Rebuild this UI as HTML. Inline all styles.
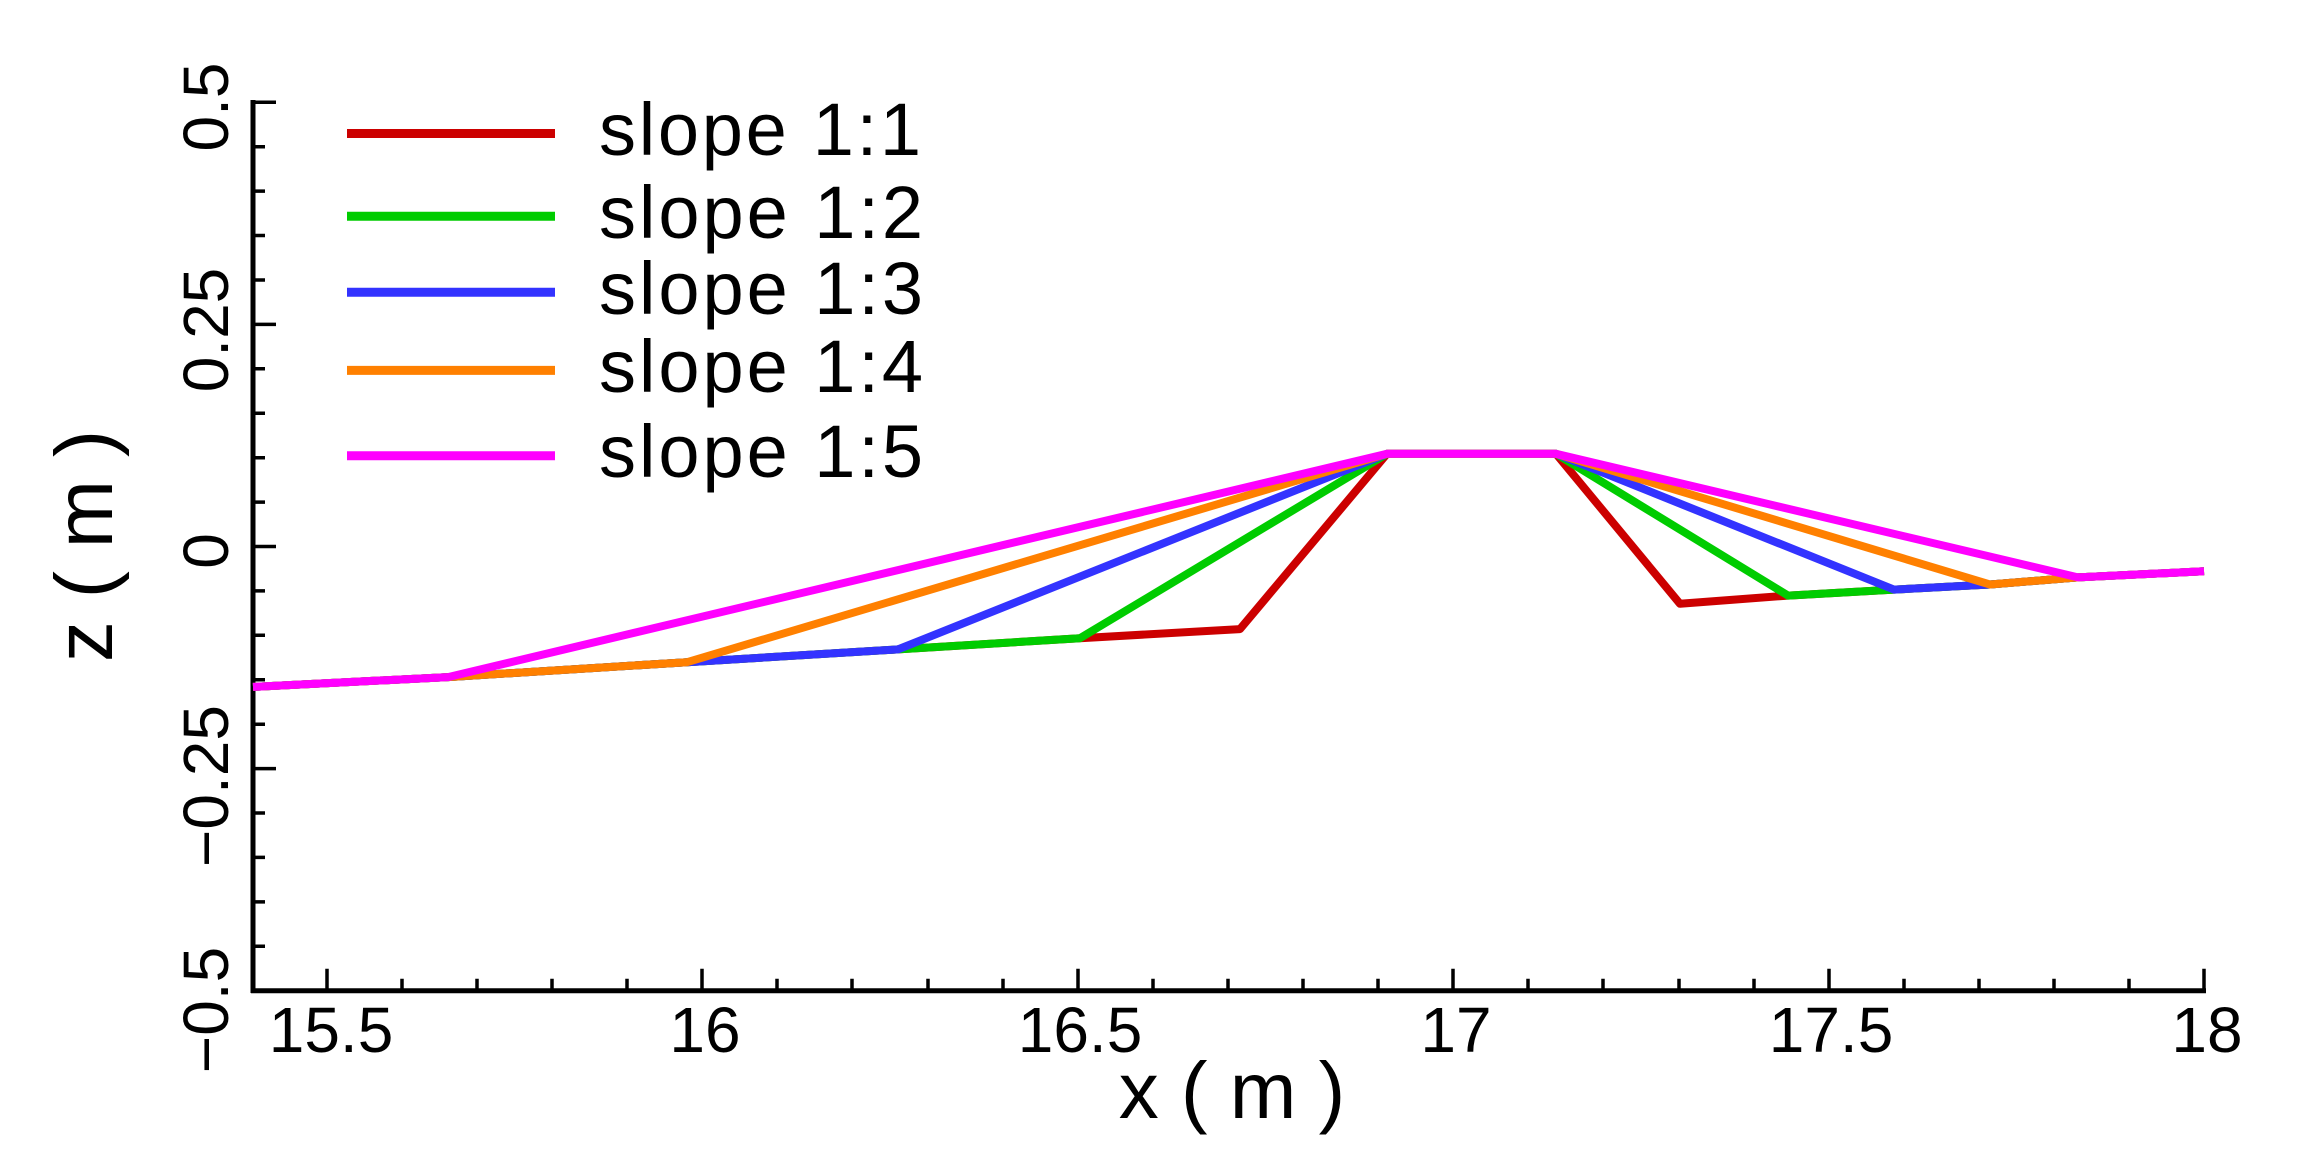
<!DOCTYPE html>
<html><head><meta charset="utf-8"><style>html,body{margin:0;padding:0;background:#fff}svg{display:block}</style></head>
<body>
<svg width="2304" height="1172" viewBox="0 0 2304 1172" xmlns="http://www.w3.org/2000/svg" font-family="Liberation Sans, Arial, sans-serif">
<rect width="2304" height="1172" fill="#fff"/>
<g stroke="#000" stroke-width="5" fill="none">
<line x1="253" y1="100" x2="253" y2="993"/>
<line x1="251" y1="990.7" x2="2206" y2="990.7"/>
</g>
<g stroke="#000" stroke-width="3.5" fill="none">
<path d="M327 990.7v-22M702 990.7v-22M1078 990.7v-22M1453 990.7v-22M1829 990.7v-22M2204 990.7v-22"/>
<path d="M402 990.7v-12M477 990.7v-12M552 990.7v-12M627 990.7v-12M777 990.7v-12M852 990.7v-12M928 990.7v-12M1003 990.7v-12M1153 990.7v-12M1228 990.7v-12M1303 990.7v-12M1378 990.7v-12M1528 990.7v-12M1603 990.7v-12M1679 990.7v-12M1754 990.7v-12M1904 990.7v-12M1979 990.7v-12M2054 990.7v-12M2129 990.7v-12"/>
<path d="M253 102.3h23M253 324.4h23M253 546.5h23M253 768.6h23M253 990.7h23"/>
<path d="M253 146.7h12M253 191.1h12M253 235.5h12M253 280h12M253 368.8h12M253 413.2h12M253 457.7h12M253 502.1h12M253 590.9h12M253 635.3h12M253 679.8h12M253 724.2h12M253 813h12M253 857.4h12M253 901.9h12M253 946.3h12"/>
</g>
<g fill="none" stroke-width="8" stroke-linejoin="round">
<polyline stroke="#cc0000" points="253,686.9 448,677.1 687,662.2 898,649.4 1080,638.2 1240,629.1 1387,453.8 1556,453.8 1680,603.8 1788,595.6 1894,589.6 1990,584.5 2078,577.4 2204,571.3"/>
<polyline stroke="#00cc00" points="253,686.9 448,677.1 687,662.2 898,649.4 1080,638.2 1387,453.8 1556,453.8 1788,595.6 1894,589.6 1990,584.5 2078,577.4 2204,571.3"/>
<polyline stroke="#3333ff" points="253,686.9 448,677.1 687,662.2 898,649.4 1387,453.8 1556,453.8 1894,589.6 1990,584.5 2078,577.4 2204,571.3"/>
<polyline stroke="#ff8000" points="253,686.9 448,677.1 687,662.2 1387,453.8 1556,453.8 1990,584.5 2078,577.4 2204,571.3"/>
<polyline stroke="#ff00ff" points="253,686.9 448,677.1 1387,453.8 1556,453.8 2078,577.4 2204,571.3"/>
</g>
<g stroke-width="9">
<line x1="347" y1="133.5" x2="555" y2="133.5" stroke="#cc0000"/>
<line x1="347" y1="216.2" x2="555" y2="216.2" stroke="#00cc00"/>
<line x1="347" y1="292.2" x2="555" y2="292.2" stroke="#3333ff"/>
<line x1="347" y1="370.4" x2="555" y2="370.4" stroke="#ff8000"/>
<line x1="347" y1="455.8" x2="555" y2="455.8" stroke="#ff00ff"/>
</g>
<g font-size="74" fill="#000">
<text x="599" y="155" textLength="322">slope 1:1</text>
<text x="599" y="238" textLength="324">slope 1:2</text>
<text x="599" y="314" textLength="324">slope 1:3</text>
<text x="599" y="392" textLength="324">slope 1:4</text>
<text x="599" y="477" textLength="324">slope 1:5</text>
</g>
<g font-size="64" fill="#000" text-anchor="middle">
<text x="331" y="1052">15.5</text>
<text x="705" y="1052">16</text>
<text x="1080" y="1052">16.5</text>
<text x="1456" y="1052">17</text>
<text x="1831" y="1052">17.5</text>
<text x="2207" y="1052">18</text>
<text x="1232" y="1118" font-size="80">x ( m )</text>
</g>
<g font-size="64" fill="#000" text-anchor="middle">
<text transform="translate(228,107) rotate(-90)">0.5</text>
<text transform="translate(228,330) rotate(-90)">0.25</text>
<text transform="translate(228,551) rotate(-90)">0</text>
<text transform="translate(228,786) rotate(-90)">−0.25</text>
<text transform="translate(228,1010) rotate(-90)">−0.5</text>
<text transform="translate(112,546) rotate(-90)" font-size="82">z ( m )</text>
</g>
</svg>
</body></html>
